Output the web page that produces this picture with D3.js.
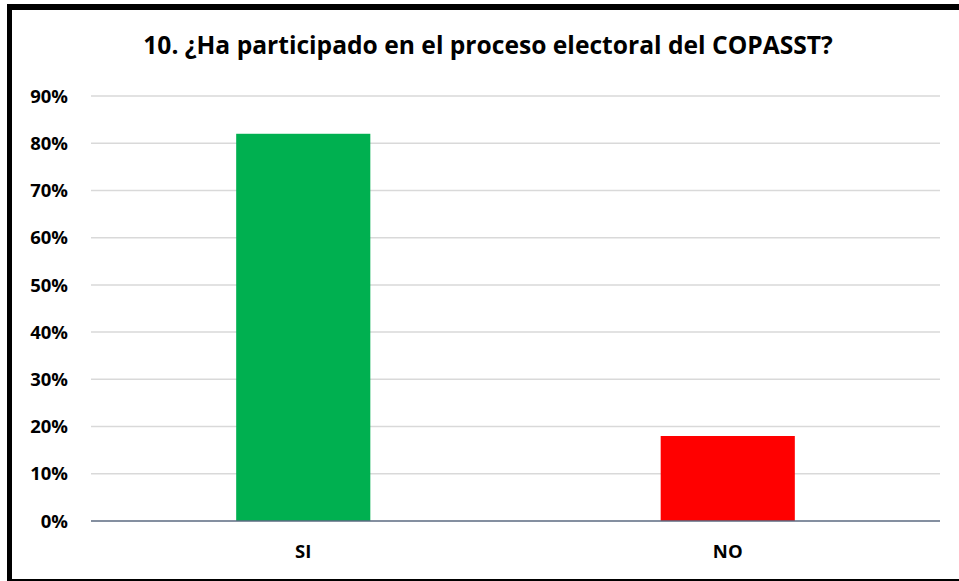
<!DOCTYPE html>
<html>
<head>
<meta charset="utf-8">
<script src="https://cdn.jsdelivr.net/npm/d3@7"></script>
<style>
	body { margin: 0; background: #fff; }
	text { font-family: "Open Sans", "Liberation Sans", sans-serif; font-weight: bold; fill: #000; }
</style>
</head>
<body>
<div id="chart"></div>
<script>
var title = '10. ¿Ha participado en el proceso electoral del COPASST?';
var categories = ['SI', 'NO'];
var values = [0.82, 0.18];
var barColors = ['#00B050', '#FF0000'];
var yTicks = [0, 0.1, 0.2, 0.3, 0.4, 0.5, 0.6, 0.7, 0.8, 0.9];

var width = 959, height = 581;
var margin = {top: 96, right: 19, bottom: 60, left: 91};

var svg = d3.select('#chart').append('svg')
	.attr('width', width)
	.attr('height', height);

// frame: thick left/top, thin bottom
svg.append('rect').attr('x', 7).attr('y', 4).attr('width', 960).attr('height', 6).attr('fill', '#000');
svg.append('rect').attr('x', 7).attr('y', 4).attr('width', 5).attr('height', 577).attr('fill', '#000');
svg.append('rect').attr('x', 7).attr('y', 579).attr('width', 960).attr('height', 2).attr('fill', '#000');

var x = d3.scaleBand()
	.domain(categories)
	.range([margin.left, width - margin.right])
	.paddingInner(0.684)
	.paddingOuter(0.342);

var y = d3.scaleLinear()
	.domain([0, 0.9])
	.range([height - margin.bottom, margin.top]);

// gridlines
svg.append('g')
	.selectAll('line')
	.data(yTicks.slice(1))
	.enter().append('line')
	.attr('x1', margin.left)
	.attr('x2', width - margin.right)
	.attr('y1', function(d) { return y(d); })
	.attr('y2', function(d) { return y(d); })
	.attr('stroke', '#D9D9D9')
	.attr('stroke-width', 1.5);

// y labels
svg.append('g')
	.selectAll('text')
	.data(yTicks)
	.enter().append('text')
	.attr('x', 68)
	.attr('y', function(d) { return y(d); })
	.attr('dy', '0.36em')
	.attr('text-anchor', 'end')
	.style('font-size', '18.5px')
	.text(function(d) { return d3.format('.0%')(d); });

// bars
svg.append('g')
	.selectAll('rect')
	.data(values)
	.enter().append('rect')
	.attr('x', function(d, i) { return x(categories[i]); })
	.attr('y', function(d) { return y(d); })
	.attr('width', x.bandwidth())
	.attr('height', function(d) { return y(0) - y(d); })
	.attr('fill', function(d, i) { return barColors[i]; });

// baseline
svg.append('line')
	.attr('x1', margin.left)
	.attr('x2', width - margin.right)
	.attr('y1', y(0))
	.attr('y2', y(0))
	.attr('stroke', '#5B6A80')
	.attr('stroke-width', 1.5);

// category labels
svg.append('g')
	.selectAll('text')
	.data(categories)
	.enter().append('text')
	.attr('x', function(d) { return x(d) + x.bandwidth() / 2; })
	.attr('y', 558)
	.attr('text-anchor', 'middle')
	.style('font-size', '18.5px')
	.text(function(d) { return d; });

// title, shrunk to the width seen in the picture
var t = svg.append('text')
	.attr('x', 488)
	.attr('y', 54)
	.attr('text-anchor', 'middle')
	.style('font-size', '23px')
	.text(title);
var w = t.node().getComputedTextLength();
t.style('font-size', (23 * 690 / w) + 'px');
</script>
</body>
</html>
